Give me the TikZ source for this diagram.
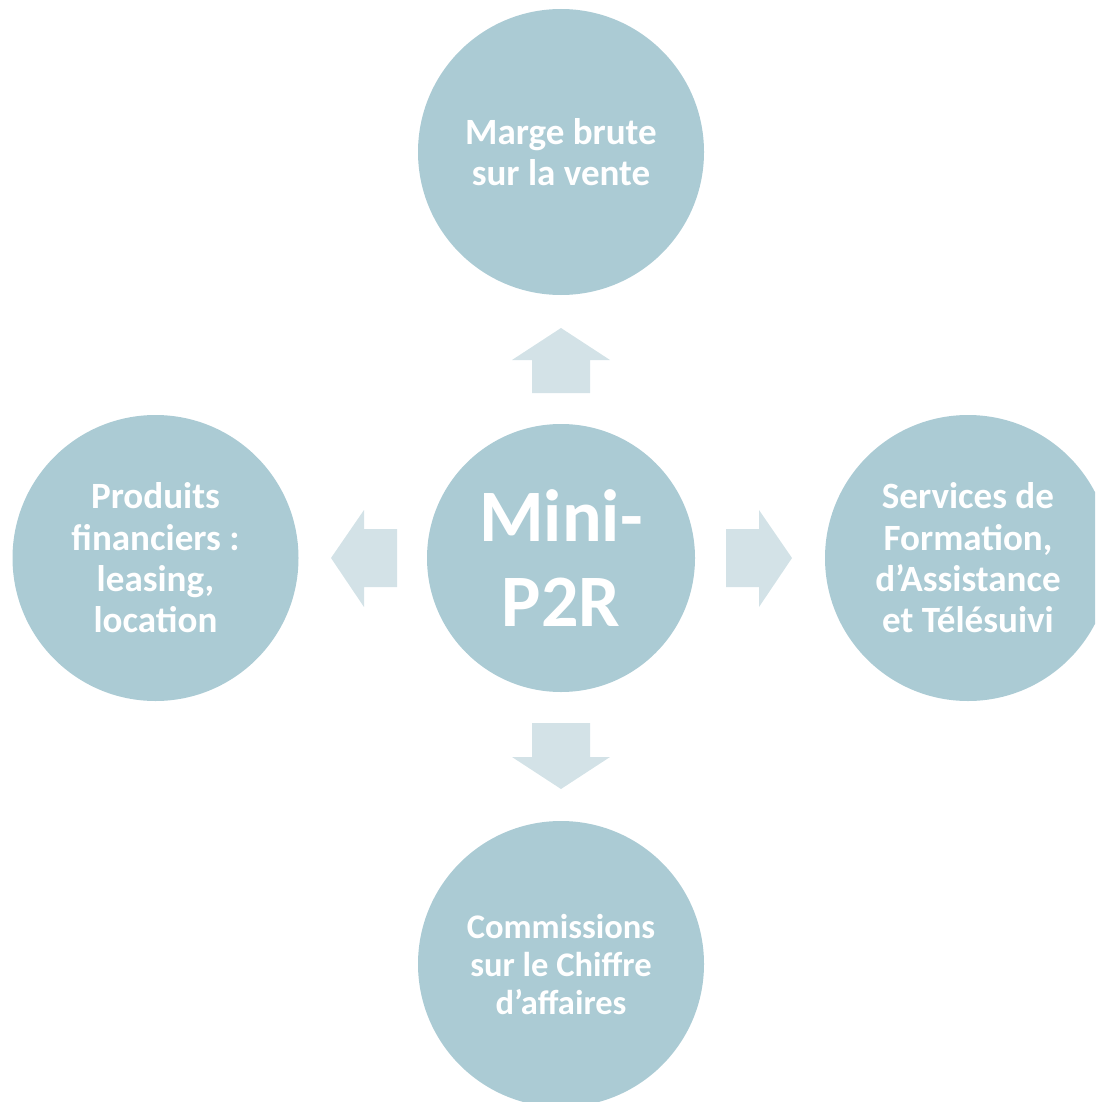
\documentclass[tikz,border=0pt]{standalone}
\usepackage{fontspec}
\setmainfont{Carlito}
\definecolor{bubbleBlue}{HTML}{ABCBD4}
\definecolor{arrowBlue}{HTML}{D3E2E7}
\tikzset{every picture/.style={line width=0.75pt}}
\tikzset{
  bubble/.style={circle, fill=bubbleBlue, draw=none, minimum size=214.5pt, inner sep=0pt,
    text=white, align=center, font=\fontsize{27.8}{31}\selectfont\bfseries},
  blockarrow/.style={fill=arrowBlue, draw=none}
}

\begin{document}
\begin{tikzpicture}[x=0.75pt,y=0.75pt,yscale=-1,xscale=1]
%set diagram size to the reference frame
\useasboundingbox (0,0) rectangle (1095,1102);
\clip (0,0) rectangle (1095,1102);

%Circles
\node [bubble, minimum size=201pt, font=\fontsize{55.5}{64}\selectfont\bfseries] (mini) at (561,558) {Mini-\\P2R};
\node [bubble] (marge) at (561,152) {Marge brute\\sur la vente};
\node [bubble] (produits) at (155.5,558) {Produits\\financiers :\\leasing,\\location};
\node [bubble] (services) at (968,558) {Services de\\Formation,\\d’Assistance\\et Télésuivi};
\node [bubble, font=\fontsize{25.9}{28.5}\selectfont\bfseries] (commissions) at (561,964) {Commissions\\sur le Chiffre\\d’affaires};

%Block arrows
%up
\fill [blockarrow] (532,393) -- (532,360) -- (512,360) -- (561,328) -- (610,360) -- (590,360) -- (590,393) -- cycle;
%down
\fill [blockarrow] (532,723) -- (532,757) -- (512,757) -- (561,789) -- (610,757) -- (590,757) -- (590,723) -- cycle;
%left
\fill [blockarrow] (397,529) -- (364,529) -- (364,510) -- (331,558) -- (364,607) -- (364,587) -- (397,587) -- cycle;
%right
\fill [blockarrow] (726,529) -- (759,529) -- (759,510) -- (792,558) -- (759,607) -- (759,587) -- (726,587) -- cycle;
\end{tikzpicture}
\end{document}
